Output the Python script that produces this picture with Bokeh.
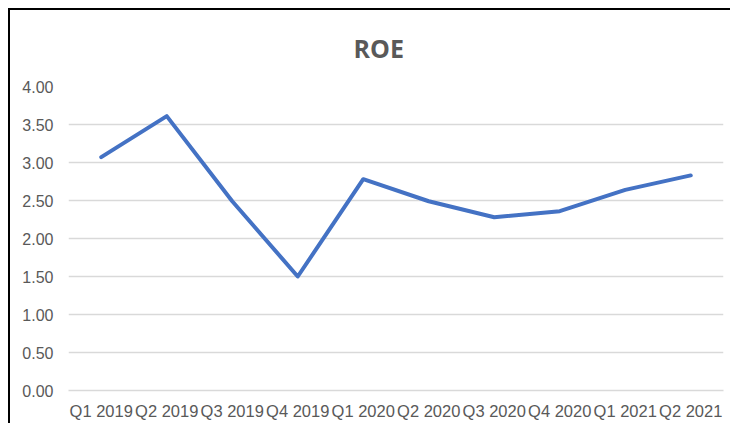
from bokeh.plotting import figure
from bokeh.models import FixedTicker, FactorRange, Range1d
from bokeh.embed import file_html
from bokeh.resources import INLINE

quarters = ["Q1 2019", "Q2 2019", "Q3 2019", "Q4 2019", "Q1 2020",
            "Q2 2020", "Q3 2020", "Q4 2020", "Q1 2021", "Q2 2021"]
roe = [3.07, 3.61, 2.49, 1.50, 2.78, 2.49, 2.28, 2.36, 2.64, 2.83]
y_ticks = [0, 0.5, 1.0, 1.5, 2.0, 2.5, 3.0, 3.5, 4.0]

p = figure(width=722, height=415, output_backend="svg", toolbar_location=None,
           x_range=FactorRange(*quarters), y_range=Range1d(0, 4),
           title="ROE",
           min_border_left=58, min_border_right=9, min_border_top=76, min_border_bottom=35,
           styles={"border-top": "2px solid #000", "border-left": "2px solid #000",
                   "margin-top": "8px", "margin-left": "8px"})
p.outline_line_color = None
p.background_fill_color = "white"
p.border_fill_color = "white"

p.title.align = "left"
p.title.vertical_align = "top"
p.title.offset = 285
p.title.standoff = 40
p.title.text_line_height = 1.0
p.title.text_font = "Open Sans"
p.title.text_font_style = "bold"
p.title.text_font_size = "25px"
p.title.text_color = "#595959"

p.line(quarters, roe, line_color="#4472C4", line_width=4, line_join="round", line_cap="round")

grid_col = "#d9d9d9"
p.xgrid.grid_line_color = None
p.ygrid.grid_line_color = grid_col
p.ygrid.grid_line_width = 1.5

p.yaxis.ticker = FixedTicker(ticks=y_ticks)
p.yaxis.major_label_overrides = {t: f"{t:.2f}" for t in y_ticks}
p.yaxis.axis_line_color = None
p.yaxis.major_tick_line_color = None
p.yaxis.minor_tick_line_color = None
p.yaxis.major_label_standoff = 9
p.yaxis.major_label_text_font = "Liberation Sans"
p.yaxis.major_label_text_font_size = "16px"
p.yaxis.major_label_text_color = "#595959"

p.xaxis.axis_line_color = grid_col
p.xaxis.axis_line_width = 1.5
p.xaxis.major_tick_line_color = None
p.xaxis.minor_tick_line_color = None
p.xaxis.major_label_standoff = 5
p.xaxis.major_label_text_font = "Liberation Sans"
p.xaxis.major_label_text_font_size = "16.5px"
p.xaxis.major_label_text_color = "#595959"

open("out.html", "w").write(file_html(p, INLINE))
